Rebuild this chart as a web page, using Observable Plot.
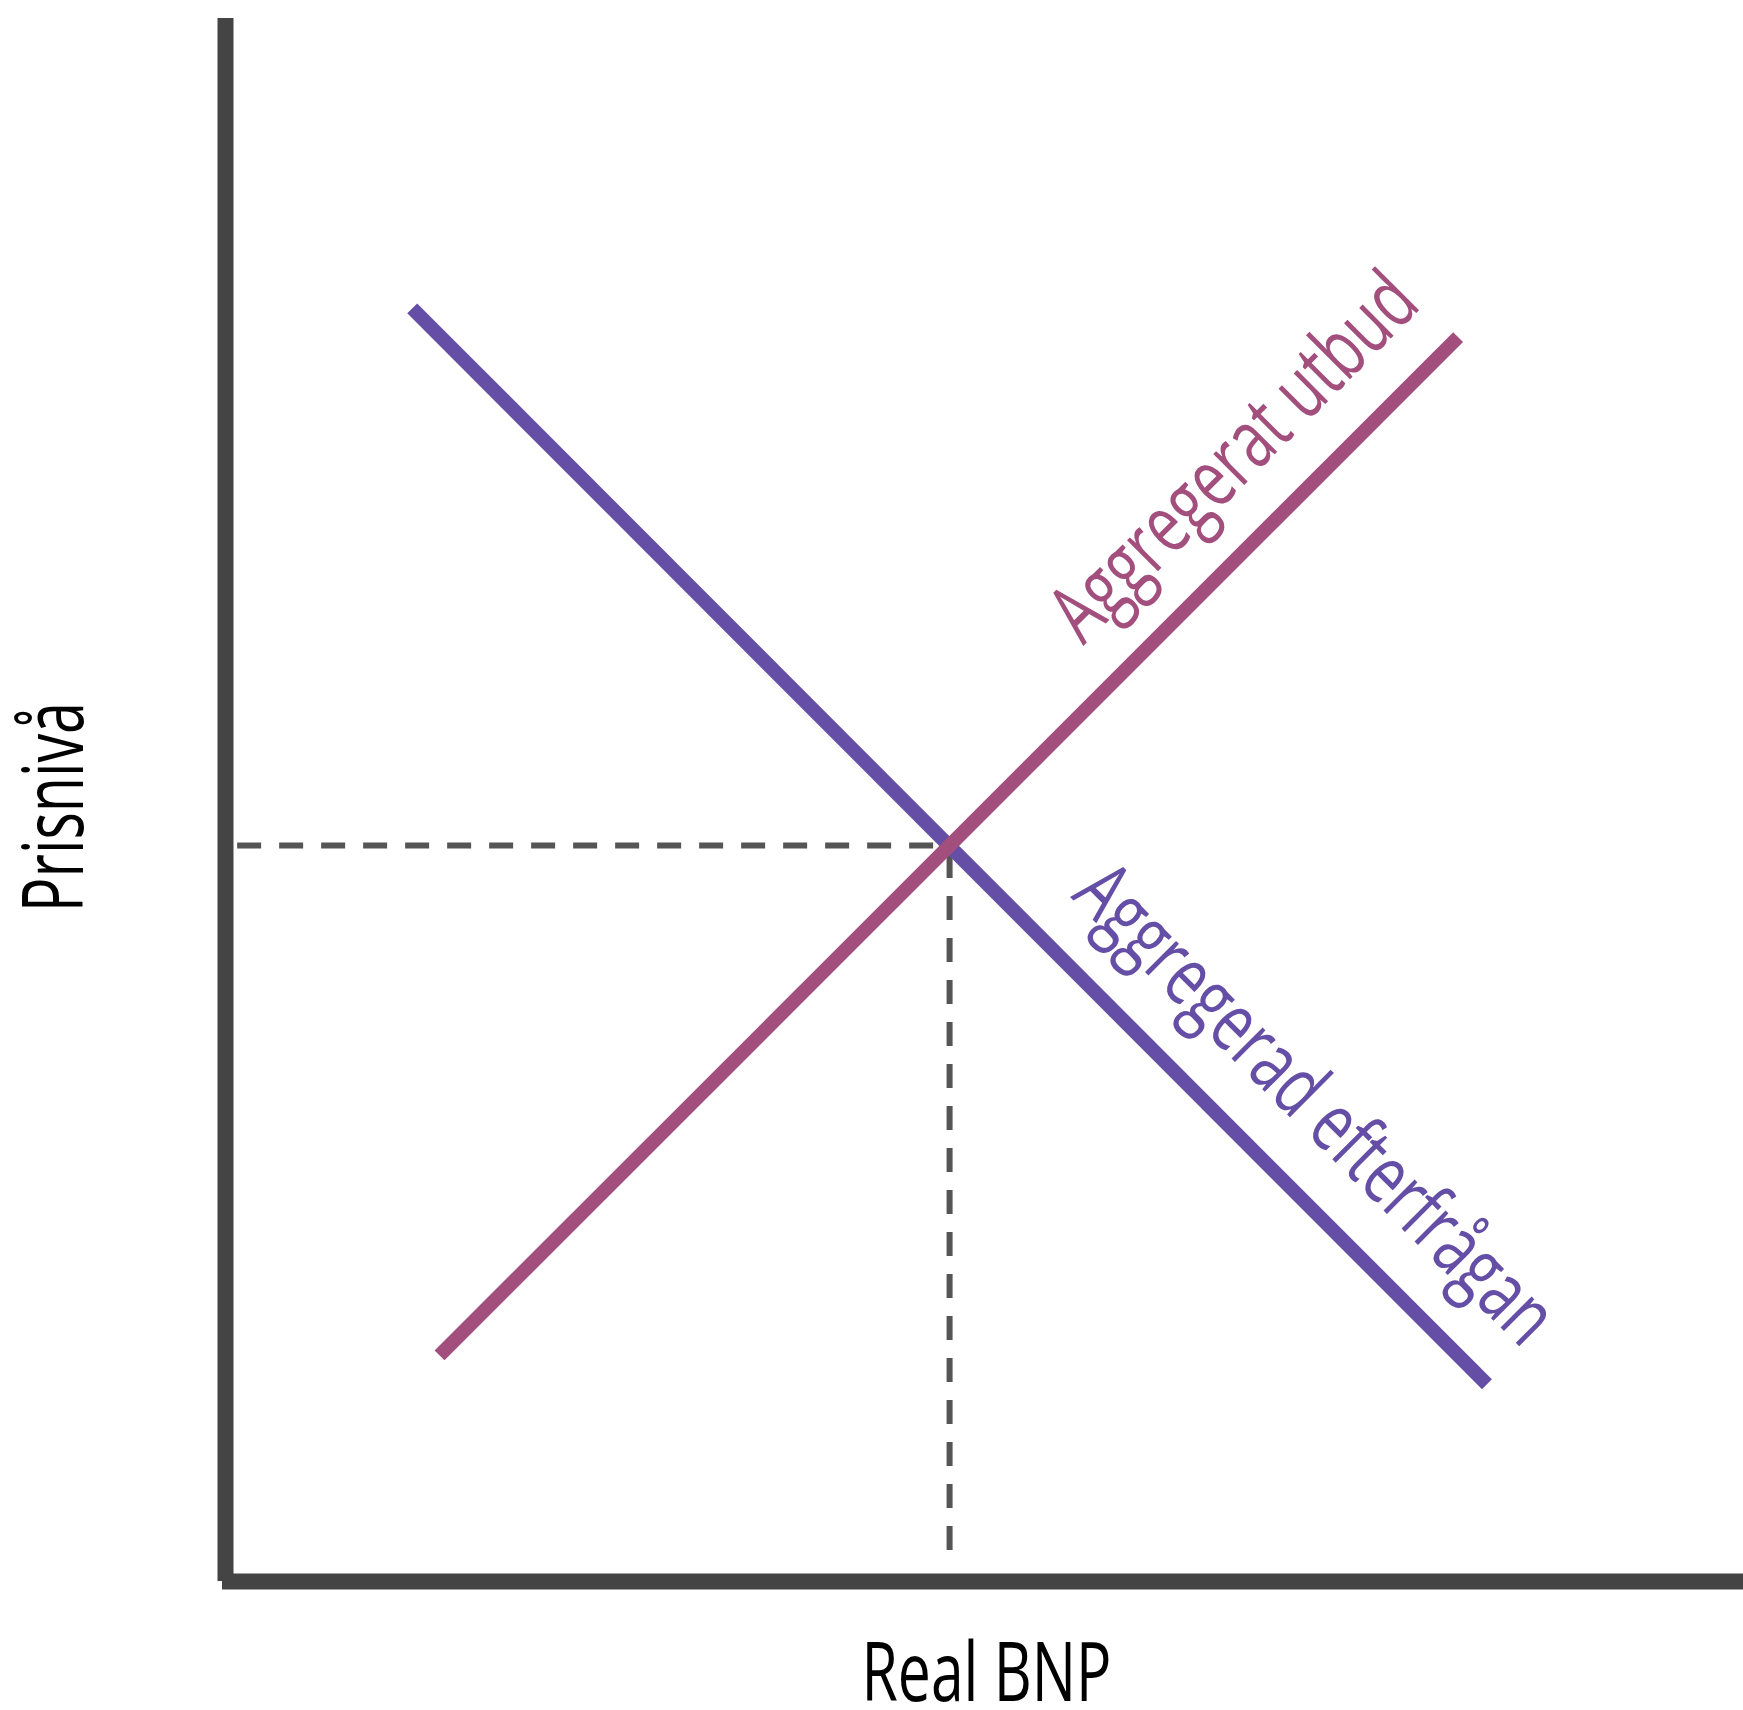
<!DOCTYPE html>
<html>
<head>
<meta charset="utf-8">
<script src="https://cdn.jsdelivr.net/npm/d3@7"></script>
<script src="https://cdn.jsdelivr.net/npm/@observablehq/plot@0.6"></script>
<style>
  html, body { margin: 0; padding: 0; background: #fff; }
  #chart svg { display: block; }
</style>
</head>
<body>
<div id="chart"></div>
<script>
// ---- data ----
const curveNames = ["Aggregerad efterfrågan", "Aggregerat utbud"];
const demandX = [12.3, 83.1];
const demandY = [83.9, 13.0];
const supplyX = [14.1, 81.2];
const supplyY = [14.9, 82.0];
const equilibriumX = [47.7];
const equilibriumY = [48.5];
const axisLabels = ["Real BNP", "Prisnivå"];

// ---- build tables ----
const demand = demandX.map((x, i) => ({x, y: demandY[i]}));
const supply = supplyX.map((x, i) => ({x, y: supplyY[i]}));
const along = (xs, ys, t) => ({x: xs[0] + t * (xs[1] - xs[0]), y: ys[0] + t * (ys[1] - ys[0])});
const demandLabel = [{...along(demandX, demandY, 0.79), label: curveNames[0]}];
const supplyLabel = [{...along(supplyX, supplyY, 0.831), label: curveNames[1]}];
const eqX = equilibriumX[0], eqY = equilibriumY[0];

const demandColor = "#654FA6";
const supplyColor = "#A34F7E";
const axisColor = "#444444";
const dashColor = "#555555";
const FS = 82;

const chart = Plot.plot({
  width: 1743,
  height: 1710,
  marginLeft: 225,
  marginRight: 0,
  marginTop: 18,
  marginBottom: 129,
  x: {domain: [0, 100], axis: null},
  y: {domain: [0, 103], axis: null},
  style: {fontFamily: "'Open Sans', Roboto, sans-serif", background: "#fff", color: "#000"},
  marks: [
    // dashed guides
    Plot.ruleY([eqY], {x1: 0.8, x2: eqX, stroke: dashColor, strokeWidth: 6, strokeDasharray: "24,18"}),
    Plot.ruleX([eqX], {y1: 2.04, y2: eqY, stroke: dashColor, strokeWidth: 6, strokeDasharray: "24,18"}),
    // curves
    Plot.line(demand, {x: "x", y: "y", stroke: demandColor, strokeWidth: 14, strokeLinecap: "butt"}),
    Plot.line(supply, {x: "x", y: "y", stroke: supplyColor, strokeWidth: 14, strokeLinecap: "butt"}),
    // axes
    Plot.ruleX([0], {y1: 0, y2: 103, stroke: axisColor, strokeWidth: 16}),
    Plot.ruleY([0], {x1: -0.2, x2: 100, stroke: axisColor, strokeWidth: 16}),
    // curve labels
    Plot.text(supplyLabel, {x: "x", y: "y", text: "label", rotate: -45, textAnchor: "middle", lineAnchor: "bottom",
      dx: -33, dy: -33, fill: supplyColor, fontSize: FS}),
    Plot.text(demandLabel, {x: "x", y: "y", text: "label", rotate: 45, textAnchor: "middle", lineAnchor: "bottom",
      dx: 35, dy: -35, fill: demandColor, fontSize: FS}),
    // axis titles
    Plot.text([axisLabels[0]], {frameAnchor: "bottom", text: d => d, lineAnchor: "bottom", textAnchor: "middle",
      dx: 2, dy: 119, fill: "#000", fontSize: FS}),
    Plot.text([axisLabels[1]], {frameAnchor: "left", text: d => d, rotate: -90, lineAnchor: "bottom", textAnchor: "middle",
      dx: -143, dy: 7, fill: "#000", fontSize: 85})
  ]
});

// condense text to the reference's narrow lettering
const widths = {
  "Real BNP": 250,
  "Prisnivå": 210,
  "Aggregerat utbud": 480,
  "Aggregerad efterfrågan": 640
};
chart.querySelectorAll("text").forEach(t => {
  const w = widths[t.textContent.trim()];
  if (w) {
    t.setAttribute("textLength", w);
    t.setAttribute("lengthAdjust", "spacingAndGlyphs");
  }
});

document.getElementById("chart").appendChild(chart);
</script>
</body>
</html>
